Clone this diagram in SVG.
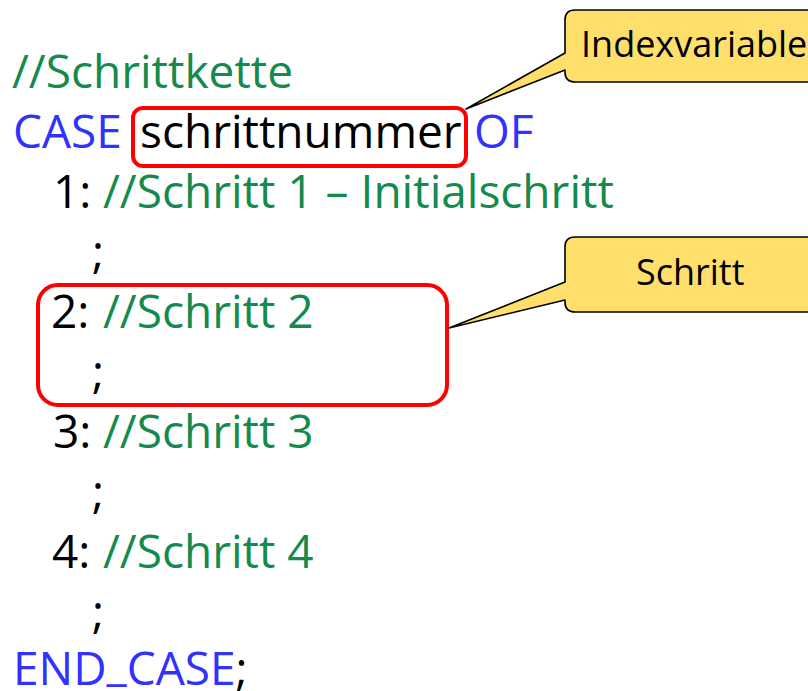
<svg xmlns="http://www.w3.org/2000/svg" width="808" height="691" viewBox="0 0 808 691">
  <style>
    .code { font-family: "Open Sans", "Liberation Sans", sans-serif; font-size: 46px; }
    .kw { fill: #3232ff; }
    .cm { fill: #148a4c; }
    .tx { fill: #000000; }
    .hl { fill: none; stroke: #ff0000; stroke-width: 4; }
    .call { fill: #ffdf6b; stroke: #000000; stroke-width: 1.6; stroke-linejoin: round; }
    .calltext { font-family: "Open Sans", "Liberation Sans", sans-serif; font-size: 36px; fill: #000000; }
  </style>

  <!-- source lines -->
  <g id="code">
    <text class="code cm" x="12" y="88">//Schrittkette</text>
    <text class="code" y="148"><tspan class="kw" x="13">CASE</tspan><tspan class="tx" x="140">schrittnummer</tspan><tspan class="kw" x="474">OF</tspan></text>
    <text class="code" y="208"><tspan class="tx" x="53">1:</tspan><tspan class="cm" x="103">//Schritt 1 – Initialschritt</tspan></text>
    <text class="code tx" x="92" y="268">;</text>
    <text class="code" y="328"><tspan class="tx" x="51">2:</tspan><tspan class="cm" x="103">//Schritt 2</tspan></text>
    <text class="code tx" x="92" y="388">;</text>
    <text class="code" y="448"><tspan class="tx" x="53">3:</tspan><tspan class="cm" x="103">//Schritt 3</tspan></text>
    <text class="code tx" x="92" y="508">;</text>
    <text class="code" y="568"><tspan class="tx" x="52">4:</tspan><tspan class="cm" x="103">//Schritt 4</tspan></text>
    <text class="code tx" x="92" y="628">;</text>
    <!-- underscore raised a little so it stays inside the canvas -->
    <text class="code" y="685"><tspan class="kw" x="13">END</tspan><tspan class="kw" dy="-5">_</tspan><tspan class="kw" dy="5">CASE</tspan><tspan class="tx">;</tspan></text>
  </g>

  <!-- highlight frames -->
  <g id="highlight-variable">
    <rect class="hl" x="133" y="108" width="333" height="58" rx="10"/>
  </g>
  <g id="highlight-step">
    <rect class="hl" x="38" y="285" width="409" height="120" rx="20"/>
  </g>

  <!-- callouts -->
  <g id="callout-index">
    <path class="call" d="M 575 10 H 830 V 82 H 575 Q 565 82 565 72 V 70 L 466 109 L 565 53 V 20 Q 565 10 575 10 Z"/>
    <text class="calltext" x="581" y="57">Indexvariable</text>
  </g>
  <g id="callout-step">
    <path class="call" d="M 575 237 H 830 V 312 H 575 Q 565 312 565 302 V 300 L 449 328 L 565 282 V 247 Q 565 237 575 237 Z"/>
    <text class="calltext" x="636" y="285">Schritt</text>
  </g>
</svg>
